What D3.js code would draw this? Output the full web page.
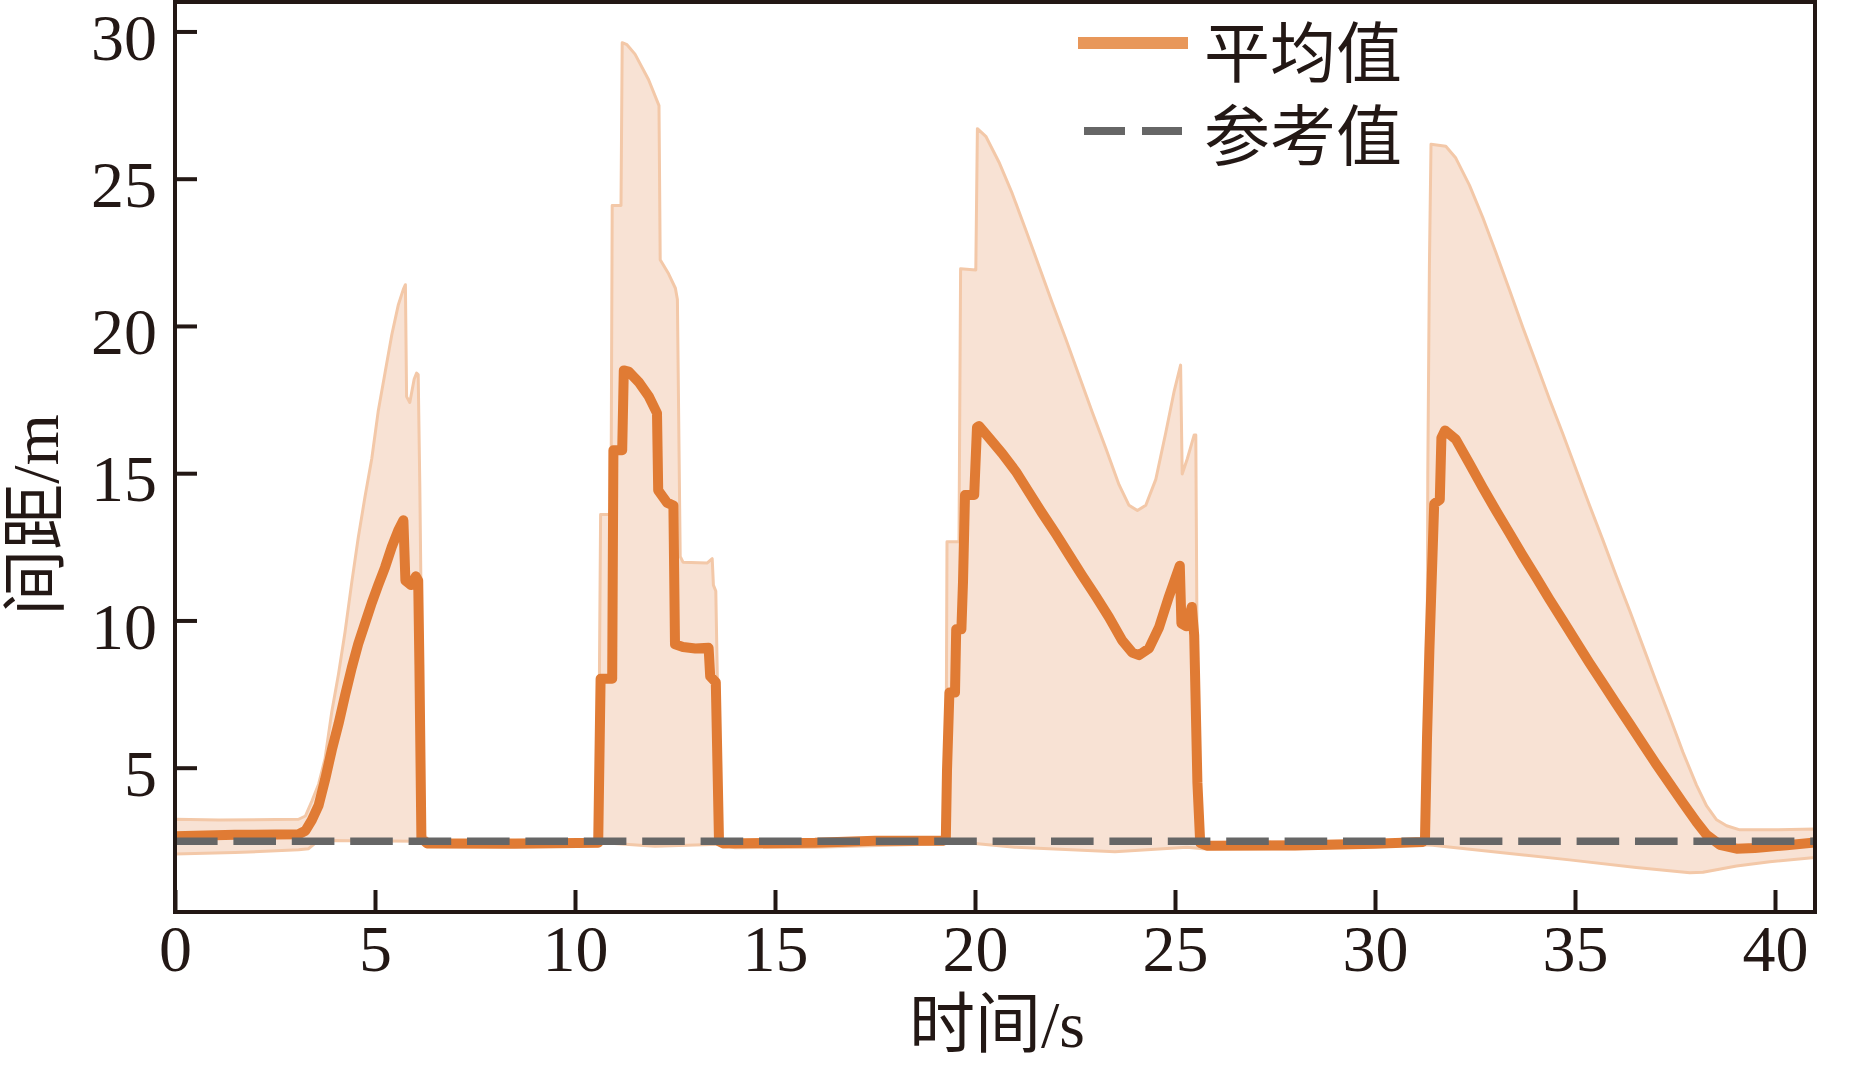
<!DOCTYPE html>
<html><head><meta charset="utf-8">
<script src="https://cdn.jsdelivr.net/npm/d3@7"></script>
<style>
html,body{margin:0;padding:0;background:#fff;}
svg{display:block;}
</style></head>
<body><svg id="chart" width="1853" height="1065"></svg>
<script>
// ---- data ----
const xTicks = [0,5,10,15,20,25,30,35,40];
const yTicks = [5,10,15,20,25,30];
const xLabel = "时间/s";
const yLabel = "间距/m";
const legendLabels = ["平均值","参考值"];
const referenceValue = 2.5;

const meanSeries = [
[0,2.67],[1.5,2.72],[3.09,2.74],[3.26,2.86],[3.42,3.22],[3.59,3.72],[3.75,4.58],[3.92,5.6],[4.09,6.5],[4.25,7.45],[4.42,8.4],[4.58,9.2],[4.75,9.9],[4.92,10.6],[5.08,11.2],[5.25,11.8],[5.42,12.5],[5.58,13.05],[5.71,13.4],[5.76,11.35],[5.9,11.2],[6.02,11.5],[6.08,11.35],[6.11,8.5],[6.16,2.6],[6.3,2.43],[8.5,2.42],[10.58,2.45],
[10.64,8.02],[10.93,8.02],[10.96,15.78],[11.18,15.78],[11.22,18.49],[11.34,18.45],[11.59,18.1],[11.84,17.62],[12.05,17.04],[12.08,14.42],[12.3,14.0],[12.46,13.9],[12.5,9.19],[12.7,9.1],[13.01,9.05],[13.34,9.07],[13.38,8.1],[13.52,7.9],[13.6,2.5],[13.7,2.43],[16,2.45],[17.5,2.52],[19.2,2.52],
[19.27,2.55],[19.3,4.9],[19.36,7.55],[19.5,7.55],[19.53,9.7],[19.66,9.7],[19.7,11.3],[19.75,14.26],[19.98,14.26],[20.05,16.56],[20.1,16.6],[20.35,16.2],[20.68,15.67],[21.02,15.06],[21.35,14.35],[21.68,13.64],[22.02,12.94],[22.35,12.23],[22.68,11.52],[23.02,10.82],[23.35,10.11],[23.68,9.32],[23.93,8.91],[24.1,8.82],[24.35,9.05],[24.6,9.76],[24.85,10.82],[25.12,11.86],[25.16,9.9],[25.28,9.8],[25.42,10.46],[25.48,9.5],[25.56,4.5],[25.63,2.45],[25.8,2.35],[28,2.36],[30,2.42],[31.2,2.48],
[31.25,2.6],[31.3,6],[31.36,9.0],[31.42,11.5],[31.48,13.96],[31.62,14.1],[31.66,16.2],[31.75,16.45],[32.02,16.15],[32.36,15.33],[32.69,14.52],[33.02,13.74],[33.36,12.97],[33.69,12.21],[34.03,11.46],[34.36,10.72],[34.7,9.99],[35.03,9.27],[35.36,8.56],[35.7,7.86],[36.03,7.17],[36.37,6.48],[36.7,5.8],[37.03,5.12],[37.37,4.45],[37.7,3.8],[38.04,3.15],[38.29,2.72],[38.62,2.38],[39.04,2.25],[39.5,2.27],[40.29,2.37],[41,2.46]
];

const upperSeries = [
[0,3.25],[1.1,3.22],[3.09,3.25],[3.26,3.36],[3.42,3.86],[3.59,4.44],[3.75,5.3],[3.92,6.9],[4.09,8.2],[4.25,9.6],[4.42,11.3],[4.58,12.8],[4.75,14.2],[4.92,15.5],[5.08,17.1],[5.25,18.4],[5.42,19.7],[5.58,20.7],[5.71,21.25],[5.76,21.4],[5.79,17.6],[5.87,17.4],[5.98,18.2],[6.04,18.4],[6.08,18.35],[6.12,14.6],[6.17,8.6],[6.22,2.7],[6.35,2.55],[10.58,2.55],
[10.64,13.6],[10.9,13.6],[10.93,24.09],[11.15,24.09],[11.18,29.62],[11.3,29.55],[11.5,29.23],[11.84,28.36],[12.1,27.48],[12.13,22.25],[12.34,21.77],[12.51,21.28],[12.56,20.9],[12.63,12.17],[12.7,11.98],[13.3,11.95],[13.43,12.1],[13.46,11.2],[13.52,11.0],[13.63,2.55],[13.75,2.52],[19.2,2.58],
[19.27,2.6],[19.3,12.67],[19.6,12.67],[19.64,21.94],[20.02,21.9],[20.06,26.7],[20.27,26.44],[20.6,25.56],[20.93,24.5],[21.27,23.26],[21.6,22.03],[21.93,20.79],[22.27,19.56],[22.6,18.32],[22.93,17.08],[23.27,15.85],[23.6,14.61],[23.85,13.91],[24.06,13.73],[24.27,13.91],[24.52,14.79],[24.77,16.38],[24.98,17.79],[25.14,18.67],[25.18,14.97],[25.31,15.5],[25.48,16.3],[25.52,16.3],[25.58,2.6],[25.7,2.45],[31.2,2.55],
[31.29,2.8],[31.32,15],[31.36,22],[31.4,26.17],[31.77,26.1],[32.02,25.7],[32.36,24.78],[32.69,23.7],[33.02,22.5],[33.36,21.23],[33.69,19.97],[34.03,18.73],[34.36,17.52],[34.7,16.32],[35.03,15.12],[35.36,13.92],[35.7,12.72],[36.03,11.52],[36.37,10.32],[36.7,9.12],[37.03,7.92],[37.37,6.72],[37.7,5.52],[38.04,4.4],[38.29,3.7],[38.54,3.23],[38.79,3.03],[39.12,2.89],[39.87,2.89],[41,2.92]
];

const lowerSeries = [
[0,2.07],[1.5,2.12],[3.09,2.21],[3.34,2.25],[3.5,2.43],[3.67,2.53],[6.1,2.5],[6.3,2.33],[10.6,2.35],[10.7,2.45],[12,2.33],[13.6,2.4],[14,2.28],[16,2.3],[19.2,2.42],[19.4,2.5],[21,2.3],[23.5,2.15],[25.3,2.3],[25.7,2.25],[28,2.25],[31.2,2.38],[31.44,2.37],[33.19,2.11],[34.86,1.87],[36.53,1.61],[37.87,1.43],[38.2,1.45],[39.04,1.66],[39.87,1.81],[41,1.95]
];

// ---- drawing ----
(function () {
const mLeft = 175, mRight = 1815, mTop = 2, mBottom = 912;
const axisColor = "#231815";
const numFont = "'Liberation Serif','Times New Roman',serif";
const cjkFont = "'Liberation Serif','Noto Sans CJK SC',serif";

const svg = d3.select("#chart");
const x = d3.scaleLinear().domain([0, 41]).range([mLeft, mRight]);
const y = d3.scaleLinear().domain([0.1, 31]).range([mBottom, mTop]);

svg.append("defs").append("clipPath").attr("id", "clip")
  .append("rect").attr("x", mLeft).attr("y", mTop).attr("width", mRight - mLeft).attr("height", mBottom - mTop);

const g = svg.append("g").attr("clip-path", "url(#clip)");
const line = d3.line().x(d => x(d[0])).y(d => y(d[1]));

// band
const bandPts = upperSeries.concat(lowerSeries.slice().reverse());
g.append("path").attr("d", line(bandPts) + "Z")
  .attr("fill", "#F8E2D4").attr("stroke", "#F3C8A8").attr("stroke-width", 3).attr("stroke-linejoin", "round");

// mean line
g.append("path").attr("d", line(meanSeries))
  .attr("fill", "none").attr("stroke", "#E07B34").attr("stroke-width", 10)
  .attr("stroke-linejoin", "round").attr("stroke-linecap", "butt");

// reference dashed line
g.append("path").attr("d", line([[0, referenceValue], [41, referenceValue]]))
  .attr("fill", "none").attr("stroke", "#666666").attr("stroke-width", 7.5)
  .attr("stroke-dasharray", "42.6 15.8");

// axes
const yAxis = svg.append("g").attr("transform", `translate(${mLeft},0)`)
  .call(d3.axisLeft(y).tickValues(yTicks).tickSizeInner(-22).tickSizeOuter(0).tickPadding(18).tickFormat(d3.format("d")));
const xAxis = svg.append("g").attr("transform", `translate(0,${mBottom})`)
  .call(d3.axisBottom(x).tickValues(xTicks).tickSizeInner(-22).tickSizeOuter(0).tickPadding(12).tickFormat(d3.format("d")));
[yAxis, xAxis].forEach(a => {
  a.select(".domain").remove();
  a.selectAll(".tick line").attr("stroke", axisColor).attr("stroke-width", 4);
  a.selectAll(".tick text").attr("fill", axisColor).style("font-family", numFont).style("font-size", "66px");
});
yAxis.selectAll(".tick text").attr("dy", "0.42em");

// frame
svg.append("rect").attr("x", mLeft).attr("y", mTop).attr("width", mRight - mLeft).attr("height", mBottom - mTop)
  .attr("fill", "none").attr("stroke", axisColor).attr("stroke-width", 4);

// axis titles
svg.append("text").attr("x", 997).attr("y", 1047).attr("text-anchor", "middle")
  .style("font-family", cjkFont).style("font-size", "66px").attr("fill", axisColor).text(xLabel);
svg.append("text").attr("transform", "translate(58,515) rotate(-90)").attr("text-anchor", "middle")
  .style("font-family", cjkFont).style("font-size", "66px").attr("fill", axisColor).text(yLabel);

// legend
const lg = svg.append("g");
lg.append("line").attr("x1", 1078).attr("x2", 1188).attr("y1", 43).attr("y2", 43)
  .attr("stroke", "#E8975A").attr("stroke-width", 12);
lg.append("line").attr("x1", 1084).attr("x2", 1182).attr("y1", 131).attr("y2", 131)
  .attr("stroke", "#666666").attr("stroke-width", 8).attr("stroke-dasharray", "41 17");
lg.append("text").attr("x", 1204).attr("y", 77).style("font-family", cjkFont).style("font-size", "66px")
  .attr("fill", axisColor).text(legendLabels[0]);
lg.append("text").attr("x", 1204).attr("y", 160).style("font-family", cjkFont).style("font-size", "66px")
  .attr("fill", axisColor).text(legendLabels[1]);
})();
</script>
</body></html>
